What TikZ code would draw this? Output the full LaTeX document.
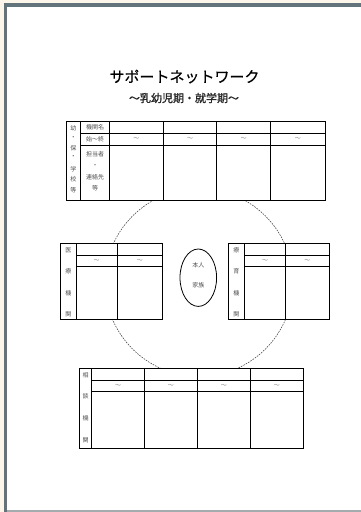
\documentclass[tikz,border=0pt]{standalone}
\usepackage{fontspec}
\newfontfamily\jp{Noto Sans CJK JP}
\newfontfamily\jpbold[FakeBold=1.2]{Noto Sans CJK JP}
\newfontfamily\jpmid[FakeBold=0.5]{Noto Sans CJK JP}
\definecolor{slate}{HTML}{62737C}
\definecolor{beige}{HTML}{FBF5EA}
\definecolor{edgegray}{HTML}{A3ABAF}
\definecolor{txt}{HTML}{505050}
\tikzset{
  tbl/.style={draw=black,line width=0.9pt,fill=white},
  grid/.style={draw=black,line width=0.9pt},
  sml/.style={inner sep=0pt,text=txt,font=\jp\fontsize{6}{6}\selectfont},
  tl/.style={inner sep=0pt,text=txt!70,font=\jp\fontsize{6}{6}\selectfont},
}
\begin{document}
\begin{tikzpicture}[x=1pt,y=-1pt]
\useasboundingbox (0,0) rectangle (361,512);
% page frame
\fill[beige] (0,0) rectangle (361,512);
\fill[slate] (4,2.7) rectangle (361,512);
\fill[edgegray] (7,509.5) rectangle (361,512);
\fill[white] (7.3,6.5) rectangle (361,509.5);
% titles
\node[inner sep=0pt,font=\jpmid\fontsize{15}{15}\selectfont] (title) at (184.5,76.5) {サポートネットワーク};
\node[inner sep=0pt,text=black!85,font=\jpbold\fontsize{11}{11}\selectfont] (sub) at (184,98) {～乳幼児期・就学期～};
% dashed circle
\draw[black!75,line width=0.55pt,dash pattern=on 1.6pt off 1.1pt] (199,282.5) circle[radius=94];
% person ellipse
\draw[line width=0.8pt] (198.3,277.7) ellipse[x radius=18.3,y radius=28.7];
\node[sml] (honnin) at (198.3,265) {本人};
\node[sml] (kazoku) at (198.3,285.5) {家族};
% ---- top table
\path[tbl] (66,121.7) rectangle (325,200);
\draw[grid] (80.7,121.7) -- (80.7,200);
\draw[grid] (109.5,121.7) -- (109.5,200);
\draw[grid] (163.3,121.7) -- (163.3,200);
\draw[grid] (216.7,121.7) -- (216.7,200);
\draw[grid] (270.7,121.7) -- (270.7,200);
\draw[grid] (80.7,133.3) -- (325,133.3);
\draw[grid] (80.7,145) -- (325,145);
\node[sml] (t1) at (73.3,128) {幼};
\node[sml] (t2) at (73.3,137.7) {・};
\node[sml] (t3) at (73.3,148) {保};
\node[sml] (t4) at (73.3,157) {・};
\node[sml] (t5) at (73.3,169.5) {学};
\node[sml] (t6) at (73.3,179) {校};
\node[sml] (t7) at (73.3,190) {等};
\node[sml] (kikan) at (95.1,127.5) {機関名};
\node[sml] (shiju) at (95.1,139.2) {始～終};
\node[sml] (tanto) at (95.1,154.7) {担当者};
\node[sml] (dot) at (95.1,166) {・};
\node[sml] (renraku) at (95.1,177.3) {連絡先};
\node[sml] (nado) at (95.1,188) {等};
\node[tl] (ta) at (136.4,139.2) {～};
\node[tl] (tb) at (190,139.2) {～};
\node[tl] (tc) at (243.7,139.2) {～};
\node[tl] (td) at (297.8,139.2) {～};
% ---- left table (medical)
\path[tbl] (60.7,243.3) rectangle (162.3,319.3);
\draw[grid] (76,243.3) -- (76,319.3);
\draw[grid] (117.3,243.3) -- (117.3,319.3);
\draw[grid] (76,255) -- (162.3,255);
\draw[grid] (76,266) -- (162.3,266);
\node[sml] (l1) at (68.3,250) {医};
\node[sml] (l2) at (68.3,271.7) {療};
\node[sml] (l3) at (68.3,293.3) {機};
\node[sml] (l4) at (68.3,314) {関};
\node[tl] (la) at (96.6,260.5) {～};
\node[tl] (lb) at (139.8,260.5) {～};
% ---- right table (ryoiku)
\path[tbl] (228.3,243.3) rectangle (329,319.3);
\draw[grid] (244.3,243.3) -- (244.3,319.3);
\draw[grid] (285.7,243.3) -- (285.7,319.3);
\draw[grid] (244.3,255) -- (329,255);
\draw[grid] (244.3,266) -- (329,266);
\node[sml] (r1) at (236.3,250) {療};
\node[sml] (r2) at (236.3,271.7) {育};
\node[sml] (r3) at (236.3,293.3) {機};
\node[sml] (r4) at (236.3,314) {関};
\node[tl] (ra) at (265,260.5) {～};
\node[tl] (rb) at (307.3,260.5) {～};
% ---- bottom table (sodan)
\path[tbl] (79.3,368.3) rectangle (303.3,448.3);
\draw[grid] (91.7,368.3) -- (91.7,448.3);
\draw[grid] (144.3,368.3) -- (144.3,448.3);
\draw[grid] (197.3,368.3) -- (197.3,448.3);
\draw[grid] (250.3,368.3) -- (250.3,448.3);
\draw[grid] (91.7,380) -- (303.3,380);
\draw[grid] (91.7,391.3) -- (303.3,391.3);
\node[sml] (b1) at (85.5,375) {相};
\node[sml] (b2) at (85.5,396.7) {談};
\node[sml] (b3) at (85.5,418.3) {機};
\node[sml] (b4) at (85.5,440) {関};
\node[tl] (ba) at (118,385.6) {～};
\node[tl] (bb) at (170.8,385.6) {～};
\node[tl] (bc) at (223.8,385.6) {～};
\node[tl] (bd) at (276.8,385.6) {～};
\end{tikzpicture}
\end{document}
